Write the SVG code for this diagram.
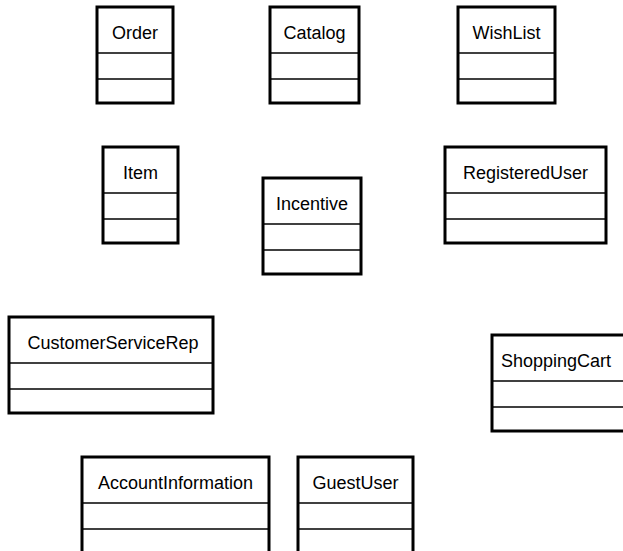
<svg xmlns="http://www.w3.org/2000/svg" width="623" height="551" viewBox="0 0 623 551">
<style>
.box{fill:#fff;stroke:#000;stroke-width:3}
.div{stroke:#000;stroke-width:1.5}
.lbl{font-family:"Liberation Sans",Arial,sans-serif;font-size:18px;fill:#000;text-anchor:middle}
</style>
<rect width="623" height="551" fill="#fff"/>
<g id="connectors"></g>
<g id="Order" transform="translate(97,7)">
<rect class="box" x="0" y="0" width="76" height="96"/>
<line class="div" x1="0" y1="46" x2="76" y2="46"/><line class="div" x1="0" y1="72" x2="76" y2="72"/>
<text class="lbl" x="38" y="31.5">Order</text>
</g>
<g id="Catalog" transform="translate(270,7)">
<rect class="box" x="0" y="0" width="89" height="96"/>
<line class="div" x1="0" y1="46" x2="89" y2="46"/><line class="div" x1="0" y1="72" x2="89" y2="72"/>
<text class="lbl" x="44.5" y="31.5">Catalog</text>
</g>
<g id="WishList" transform="translate(458,7)">
<rect class="box" x="0" y="0" width="97" height="96"/>
<line class="div" x1="0" y1="46" x2="97" y2="46"/><line class="div" x1="0" y1="72" x2="97" y2="72"/>
<text class="lbl" x="48.5" y="31.5">WishList</text>
</g>
<g id="Item" transform="translate(103,147)">
<rect class="box" x="0" y="0" width="75" height="96"/>
<line class="div" x1="0" y1="46" x2="75" y2="46"/><line class="div" x1="0" y1="72" x2="75" y2="72"/>
<text class="lbl" x="37.5" y="31.5">Item</text>
</g>
<g id="Incentive" transform="translate(263,178)">
<rect class="box" x="0" y="0" width="98" height="96"/>
<line class="div" x1="0" y1="46" x2="98" y2="46"/><line class="div" x1="0" y1="72" x2="98" y2="72"/>
<text class="lbl" x="49" y="31.5">Incentive</text>
</g>
<g id="RegisteredUser" transform="translate(445,147)">
<rect class="box" x="0" y="0" width="161" height="96"/>
<line class="div" x1="0" y1="46" x2="161" y2="46"/><line class="div" x1="0" y1="72" x2="161" y2="72"/>
<text class="lbl" x="80.5" y="31.5">RegisteredUser</text>
</g>
<g id="CustomerServiceRep" transform="translate(9,317)">
<rect class="box" x="0" y="0" width="204" height="96"/>
<line class="div" x1="0" y1="46" x2="204" y2="46"/><line class="div" x1="0" y1="72" x2="204" y2="72"/>
<text class="lbl" x="104" y="31.5">CustomerServiceRep</text>
</g>
<g id="ShoppingCart" transform="translate(492,335)">
<rect class="box" x="0" y="0" width="140" height="96"/>
<line class="div" x1="0" y1="46" x2="140" y2="46"/><line class="div" x1="0" y1="72" x2="140" y2="72"/>
<text class="lbl" x="64" y="31.5">ShoppingCart</text>
</g>
<g id="AccountInformation" transform="translate(82,457)">
<rect class="box" x="0" y="0" width="187" height="96"/>
<line class="div" x1="0" y1="46" x2="187" y2="46"/><line class="div" x1="0" y1="72" x2="187" y2="72"/>
<text class="lbl" x="93.5" y="31.5">AccountInformation</text>
</g>
<g id="GuestUser" transform="translate(298,457)">
<rect class="box" x="0" y="0" width="115" height="96"/>
<line class="div" x1="0" y1="46" x2="115" y2="46"/><line class="div" x1="0" y1="72" x2="115" y2="72"/>
<text class="lbl" x="57.5" y="31.5">GuestUser</text>
</g>
</svg>
